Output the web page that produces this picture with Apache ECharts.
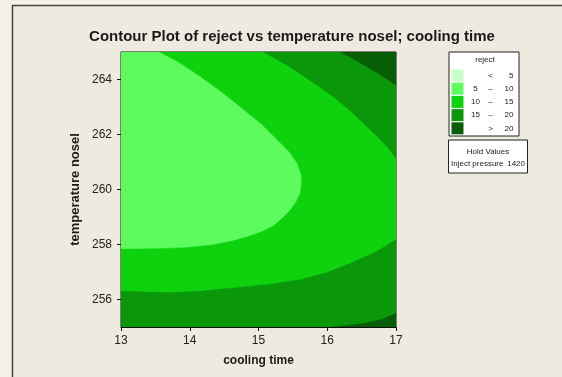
<!DOCTYPE html>
<html><head><meta charset="utf-8">
<script src="https://cdn.jsdelivr.net/npm/echarts@6/dist/echarts.min.js"></script>
<style>html,body{margin:0;padding:0;background:#F4F1E8}#c{width:562px;height:377px}</style>
</head><body><div id="c"></div>
<script>
// ---- data ----
const xTicks = [13, 14, 15, 16, 17];
const yTicks = [256, 258, 260, 262, 264];
const bandNames = ['< 5', '5 – 10', '10 – 15', '15 – 20', '> 20'];
const bandLow = [null, 5, 10, 15, 20];
const bandHigh = [5, 10, 15, 20, null];
const bandColors = ['#C8FFC8', '#5EFB5E', '#0ED20E', '#0A970A', '#075E07'];
// contour region polygons (cooling time, temperature nosel)
const region10_15 = [[13,255],[17,255],[17,265],[13,265]];
const region5_10 = [[13,265],[13.55,265],[13.85,264.6],[14.15,264.1],[14.48,263.5],[14.78,262.9],[15.05,262.35],[15.27,261.8],[15.45,261.35],[15.56,260.95],[15.62,260.5],[15.62,260.2],[15.6,259.86],[15.54,259.55],[15.46,259.26],[15.35,258.98],[15.22,258.7],[15.05,258.48],[14.83,258.29],[14.58,258.12],[14.3,257.99],[13.98,257.91],[13.67,257.87],[13,257.85]];
const regionTop15_20 = [[15.07,265],[15.35,264.62],[15.61,264.2],[15.85,263.8],[16.09,263.37],[16.32,262.9],[16.53,262.4],[16.69,262.02],[16.82,261.7],[16.92,261.4],[17,261.13],[17,265]];
const regionTop20 = [[16.19,265],[16.4,264.72],[16.58,264.46],[16.8,264.13],[17,263.79],[17,265]];
const regionBot15_20 = [[13,255],[13,256.3],[13.67,256.25],[14.15,256.3],[14.64,256.42],[15.15,256.55],[15.61,256.72],[16.0,256.98],[16.34,257.32],[16.7,257.72],[17,258.17],[17,255]];
const regionBot20 = [[16.09,255],[16.35,255.07],[16.58,255.15],[16.8,255.28],[17,255.5],[17,255]];
const holdName = 'Inject pressure';
const holdValue = '1420';

function polySeries(name, color, polys, z) {
  return {
    type: 'custom', name: name, z: z,
    itemStyle: { color: color },
    clip: true,
    data: polys.length ? [0] : [],
    renderItem: function (params, api) {
      return {
        type: 'group',
        children: polys.map(function (poly) {
          return {
            type: 'polygon',
            shape: { points: poly.map(function (p) { return api.coord(p); }) },
            style: { fill: color, stroke: color, lineWidth: 0.5 }
          };
        })
      };
    },
    silent: true
  };
}

const chart = echarts.init(document.getElementById('c'), null, { renderer: 'canvas' });
const series = [
  polySeries(bandNames[0], bandColors[0], [], 1),
  polySeries(bandNames[2], bandColors[2], [region10_15], 2),
  polySeries(bandNames[1], bandColors[1], [region5_10], 3),
  polySeries(bandNames[3], bandColors[3], [regionTop15_20, regionBot15_20], 4),
  polySeries(bandNames[4], bandColors[4], [regionTop20, regionBot20], 5)
];
const font = 'Liberation Sans';
chart.setOption({
  backgroundColor: '#F4F1E8',
  animation: false,
  title: {
    text: 'Contour Plot of reject vs temperature nosel; cooling time',
    left: 287, top: 24, textAlign: 'center',
    textStyle: { fontFamily: font, fontWeight: 'bold', fontSize: 15, color: '#1a1a1a' }
  },
  grid: { left: 121, right: 166, top: 52, bottom: 50, show: true, borderColor: '#111', borderWidth: 1 },
  xAxis: {
    type: 'value', min: 13, max: 17, interval: 1,
    name: 'cooling time', nameLocation: 'middle', nameGap: 28,
    nameTextStyle: { fontFamily: font, fontWeight: 'bold', fontSize: 12, color: '#1a1a1a' },
    axisLine: { show: true, lineStyle: { color: '#111' } },
    axisTick: { show: true, length: 4, lineStyle: { color: '#111' } },
    axisLabel: { fontFamily: font, fontSize: 12, color: '#222', margin: 8 },
    splitLine: { show: false }
  },
  yAxis: {
    type: 'value', min: 255, max: 265,
    name: 'temperature nosel', nameLocation: 'middle', nameGap: 39,
    nameTextStyle: { fontFamily: font, fontWeight: 'bold', fontSize: 13, color: '#1a1a1a' },
    axisLine: { show: true, lineStyle: { color: '#111' } },
    axisTick: { show: true, length: 4, customValues: yTicks, lineStyle: { color: '#111' } },
    axisLabel: { fontFamily: font, fontSize: 12, color: '#222', margin: 9, customValues: yTicks },
    splitLine: { show: false }
  },
  legend: {
    orient: 'vertical', left: 451.5, top: 69.5, padding: 0,
    itemWidth: 12, itemHeight: 12, itemGap: 1.2, icon: 'rect',
    data: bandNames, selectedMode: false,
    formatter: function (name) {
      const i = bandNames.indexOf(name);
      if (bandLow[i] === null) return '{c1|}{c2|<}{c4|' + bandHigh[i] + '}';
      if (bandHigh[i] === null) return '{c1|}{c2|>}{c4|' + bandLow[i] + '}';
      return '{c1|' + bandLow[i] + '}{c2|–}{c4|' + bandHigh[i] + '}';
    },
    textStyle: {
      fontFamily: font, fontSize: 8, color: '#222', padding: [0, 0, 0, 0],
      rich: {
        c1: { width: 14, align: 'right', fontSize: 8, fontFamily: font },
        c2: { width: 16, align: 'center', fontSize: 8, fontFamily: font },
        c4: { width: 15, align: 'right', fontSize: 8, fontFamily: font }
      }
    }
  },
  graphic: [
    { type: 'rect', shape: { x: 12.5, y: 5.5, width: 700, height: 500 }, style: { fill: '#EFEADF', stroke: '#444', lineWidth: 1.5 }, z: -10, silent: true },
    { type: 'rect', shape: { x: 449, y: 52, width: 70, height: 84 }, style: { fill: '#fff', stroke: '#222', lineWidth: 1 }, z: 0, silent: true },
    { type: 'text', x: 485, y: 60, style: { text: 'reject', fontFamily: font, fontSize: 8, fill: '#222', align: 'center', verticalAlign: 'middle' }, silent: true },
    { type: 'rect', shape: { x: 448.5, y: 140, width: 79, height: 33 }, style: { fill: '#fff', stroke: '#222', lineWidth: 1 }, silent: true },
    { type: 'text', x: 488, y: 152, style: { text: 'Hold Values', fontFamily: font, fontSize: 8, fill: '#222', align: 'center', verticalAlign: 'middle' }, silent: true },
    { type: 'text', x: 451, y: 164, style: { text: holdName, fontFamily: font, fontSize: 8, fill: '#222', align: 'left', verticalAlign: 'middle' }, silent: true },
    { type: 'text', x: 525, y: 164, style: { text: holdValue, fontFamily: font, fontSize: 8, fill: '#222', align: 'right', verticalAlign: 'middle' }, silent: true }
  ],
  series: series
});
</script></body></html>
